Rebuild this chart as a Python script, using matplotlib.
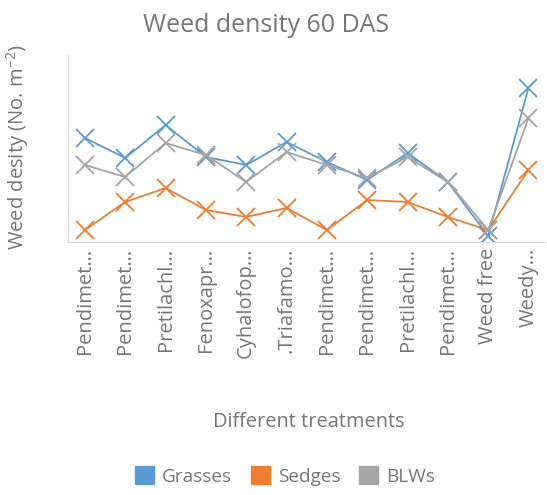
import matplotlib
matplotlib.use("Agg")
import matplotlib.pyplot as plt
from matplotlib.patches import Patch

categories = ["Pendimet…", "Pendimet…", "Pretilachl…", "Fenoxapr…", "Cyhalofop…",
              ".Triafamo…", "Pendimet…", "Pendimet…", "Pretilachl…", "Pendimet…",
              "Weed free", "Weedy…"]
grasses = [52, 42, 58.5, 42.5, 38.5, 50, 40, 31, 44.5, 30, 3, 77]
sedges = [6, 20, 27, 16, 12.5, 17, 6, 21, 20, 12.5, 6, 36]
blws = [38.5, 32.5, 49.5, 43.5, 30, 45, 38.5, 32, 42.5, 30, 6, 62]

plt.rcParams['font.family'] = ['Open Sans', 'DejaVu Sans']
plt.rcParams['mathtext.default'] = 'regular'
txt = '#767676'
c_g, c_s, c_b = '#5B9BD5', '#ED7D31', '#A5A5A5'

fig = plt.figure(figsize=(5.47, 4.95), dpi=100)
ax = fig.add_axes([68/547, 1-242/495, 477/547, 187/495])
x = list(range(len(categories)))
for vals, c in [(grasses, c_g), (sedges, c_s), (blws, c_b)]:
    ax.plot(x, vals, color=c, lw=1.3, marker='x', ms=13, mew=1.3)

ax.set_ylim(0, 93.5)
ax.set_xlim(-0.42, 11.41)
ax.set_yticks([])
ax.set_xticks(x)
ax.set_xticklabels(categories, rotation=90, fontsize=14.5, color=txt)
ax.tick_params(axis='x', length=0, pad=4)
for s in ['top', 'right']:
    ax.spines[s].set_visible(False)
for s in ['left', 'bottom']:
    ax.spines[s].set_color('#D9D9D9')

fig.text(266/547, 1-25/495, "Weed density 60 DAS", ha='center', va='center', fontsize=18, color=txt)
fig.text(18/547, 1-147/495, "Weed desity (No. m$^{-2}$)", ha='center', va='center',
         rotation=90, fontsize=14.5, color=txt)
fig.text(309/547, 1-422/495, "Different treatments", ha='center', va='center', fontsize=14.4, color=txt)

handles = [Patch(color=c_g, label='Grasses'), Patch(color=c_s, label='Sedges'), Patch(color=c_b, label='BLWs')]
leg = fig.legend(handles=handles, loc='center', bbox_to_anchor=(285/547, 1-476/495), ncol=3,
                 frameon=False, fontsize=13.7, handlelength=1.0, handleheight=1.0,
                 columnspacing=1.0, handletextpad=0.4)
for t in leg.get_texts():
    t.set_color(txt)

fig.savefig("out.png", dpi=100)
